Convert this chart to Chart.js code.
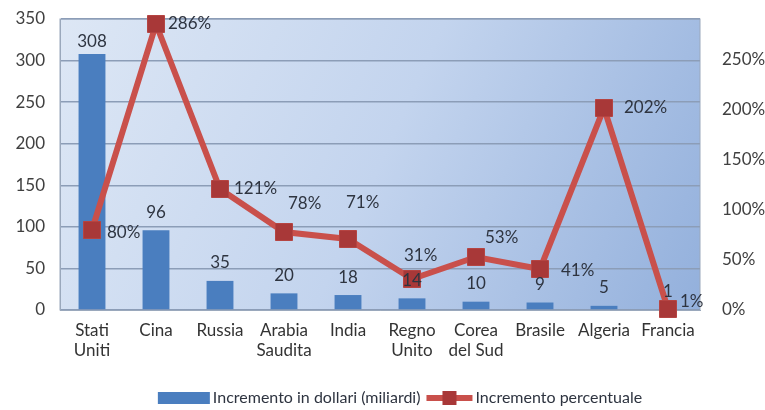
<!DOCTYPE html>
<html>
<head>
<meta charset="utf-8">
<script src="https://cdn.jsdelivr.net/npm/chart.js@4.4.1/dist/chart.umd.min.js"></script>
<style>
  html, body { margin: 0; padding: 0; background: #ffffff; }
  #wrap { width: 765px; height: 410px; }
</style>
</head>
<body>
<div id="wrap"><canvas id="chart-increment"></canvas></div>
<script>
const countries = [["Stati", "Uniti"], "Cina", "Russia", ["Arabia", "Saudita"], "India", ["Regno", "Unito"], ["Corea", "del Sud"], "Brasile", "Algeria", "Francia"];
const dollarIncrease = [308, 96, 35, 20, 18, 14, 10, 9, 5, 1];
const percentIncrease = [80, 286, 121, 78, 71, 31, 53, 41, 202, 1];
const leftTicks = [0, 50, 100, 150, 200, 250, 300, 350];
const rightTicks = [0, 50, 100, 150, 200, 250];
const seriesNames = ["Incremento in dollari (miliardi)", "Incremento percentuale"];

const FONT = "Lato, 'Open Sans', sans-serif";
const BAR_COLOR = '#4a7ebf';
const LINE_COLOR = '#c9504b';
const MARKER_COLOR = '#a83838';

// where each percent label sits relative to its marker (dx to left edge, dy to centre)
const pctLabelOffsets = [[15, 3], [12, 0], [14, 0], [4, -28], [-2, -36], [-8, -23], [9, -19], [21, 2], [20, 0], [12, -7]];

const backgroundPlugin = {
    id: 'plotBackground',
    beforeDraw(chart) {
        const {ctx, chartArea: a} = chart;
        const g = ctx.createLinearGradient(a.left, a.top, a.right, a.bottom);
        g.addColorStop(0, '#dde7f5');
        g.addColorStop(0.5, '#c3d4ee');
        g.addColorStop(1, '#93b0dc');
        ctx.save();
        ctx.fillStyle = g;
        ctx.fillRect(a.left, a.top, a.right - a.left, a.bottom - a.top);
        ctx.strokeStyle = '#9aa8bc';
        ctx.lineWidth = 1;
        ctx.strokeRect(a.left, a.top, a.right - a.left, a.bottom - a.top);
        ctx.restore();
    }
};

const labelsPlugin = {
    id: 'valueLabels',
    afterDatasetsDraw(chart) {
        const ctx = chart.ctx;
        ctx.save();
        ctx.font = '17px ' + FONT;
        ctx.fillStyle = '#2e3440';
        ctx.textBaseline = 'middle';

        const bars = chart.getDatasetMeta(1).data;
        ctx.textAlign = 'center';
        bars.forEach((bar, i) => {
            const y = Math.max(bar.y - 18, 42);
            ctx.fillText(String(dollarIncrease[i]), bar.x, y);
        });

        const points = chart.getDatasetMeta(0).data;
        ctx.textAlign = 'left';
        points.forEach((p, i) => {
            const off = pctLabelOffsets[i];
            ctx.fillText(percentIncrease[i] + '%', p.x + off[0], p.y + off[1]);
        });
        ctx.restore();
    }
};

const legendPlugin = {
    id: 'bottomLegend',
    afterDraw(chart) {
        const ctx = chart.ctx;
        const y = 398;
        ctx.save();
        ctx.font = '16px ' + FONT;
        ctx.textBaseline = 'middle';
        ctx.textAlign = 'left';
        const w1 = ctx.measureText(seriesNames[0]).width;
        const w2 = ctx.measureText(seriesNames[1]).width;
        const total = 52 + 3 + w1 + 6 + 46 + 3 + w2;
        let x = 400 - total / 2;

        ctx.fillStyle = BAR_COLOR;
        ctx.fillRect(x, y - 6, 52, 12);
        x += 55;
        ctx.fillStyle = '#2e3440';
        ctx.fillText(seriesNames[0], x, y);
        x += w1 + 6;

        ctx.strokeStyle = LINE_COLOR;
        ctx.lineWidth = 6;
        ctx.beginPath();
        ctx.moveTo(x, y);
        ctx.lineTo(x + 46, y);
        ctx.stroke();
        ctx.fillStyle = MARKER_COLOR;
        ctx.fillRect(x + 16, y - 7, 14, 14);
        x += 49;
        ctx.fillStyle = '#2e3440';
        ctx.fillText(seriesNames[1], x, y);
        ctx.restore();
    }
};

const incrementChart = document.getElementById('chart-increment').getContext('2d');

new Chart(incrementChart, {
    data: {
        labels: countries,
        datasets: [
            {
                type: 'line',
                label: seriesNames[1],
                data: percentIncrease,
                yAxisID: 'yPct',
                borderColor: LINE_COLOR,
                borderWidth: 6,
                backgroundColor: MARKER_COLOR,
                pointStyle: 'rect',
                pointRadius: 12,
                pointBorderWidth: 1,
                pointBorderColor: '#b54442',
                pointBackgroundColor: MARKER_COLOR,
                tension: 0,
                clip: false,
                order: 0
            },
            {
                type: 'bar',
                label: seriesNames[0],
                data: dollarIncrease,
                yAxisID: 'y',
                backgroundColor: BAR_COLOR,
                categoryPercentage: 1,
                barPercentage: 0.42,
                order: 1
            }
        ]
    },
    options: {
        responsive: true,
        maintainAspectRatio: false,
        animation: false,
        layout: { padding: { top: 19, left: 0, right: 0, bottom: 0 } },
        plugins: {
            legend: { display: false },
            tooltip: { enabled: false }
        },
        scales: {
            x: {
                grid: { display: false },
                border: { display: true, color: '#9aa8bc' },
                ticks: {
                    color: '#333333',
                    font: { family: FONT, size: 17 },
                    padding: 2,
                    maxRotation: 0,
                    autoSkip: false
                },
                afterFit(scale) { scale.height = 100; }
            },
            y: {
                position: 'left',
                min: 0,
                max: 350,
                afterBuildTicks(scale) { scale.ticks = leftTicks.map(v => ({ value: v })); },
                grid: { color: '#8c9db7', lineWidth: 1.5, drawTicks: false },
                border: { display: true, color: '#9aa8bc' },
                ticks: {
                    color: '#404040',
                    font: { family: FONT, size: 17 },
                    padding: 15
                },
                afterFit(scale) { scale.width = 60; scale.paddingTop = 0; }
            },
            yPct: {
                position: 'right',
                min: 0,
                max: 291,
                afterBuildTicks(scale) { scale.ticks = rightTicks.map(v => ({ value: v })); },
                grid: { display: false },
                border: { display: false },
                ticks: {
                    color: '#404040',
                    font: { family: FONT, size: 17 },
                    padding: 14,
                    callback: v => v + '%'
                },
                afterFit(scale) { scale.width = 65; scale.paddingTop = 0; }
            }
        }
    },
    plugins: [backgroundPlugin, labelsPlugin, legendPlugin]
});
</script>
</body>
</html>
